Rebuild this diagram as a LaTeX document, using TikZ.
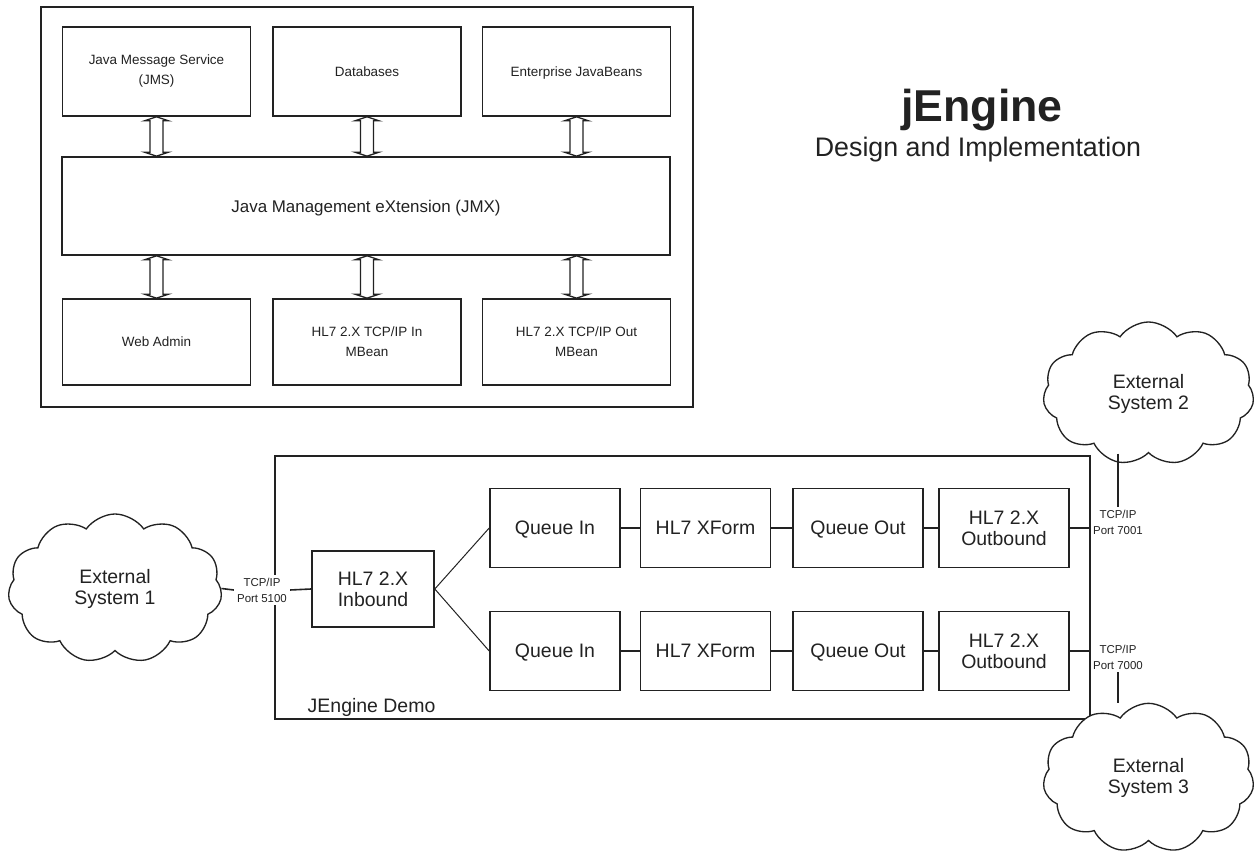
\documentclass[tikz,border=0pt]{standalone}
\usepackage{fontspec}
\setmainfont{Liberation Sans}
\usetikzlibrary{shapes.symbols,calc}
\definecolor{ink}{HTML}{222222}
\tikzset{
  small/.style={font=\fontsize{10.1}{15}\selectfont},
  mid/.style={font=\fontsize{12.7}{15}\selectfont},
  big/.style={font=\fontsize{14.6}{15.75}\selectfont},
  tiny/.style={font=\fontsize{8.6}{12}\selectfont},
  onebig/.style={text height=10.45pt, text depth=0pt},
  onesmall/.style={text height=7.25pt, text depth=0pt},
  box/.style={draw=ink, line width=1.2pt, rectangle, inner sep=0pt, align=center, text=ink},
  topbox/.style={box, small, minimum width=141pt, minimum height=66.75pt},
  botbox/.style={box, small, minimum width=141pt, minimum height=64.5pt},
  flowbox/.style={box, big, minimum width=97.5pt, minimum height=59.25pt},
  frame/.style={draw=ink, line width=1.2pt, rectangle, inner sep=0pt},
  conn/.style={draw=ink, line width=1.2pt},
  thinconn/.style={draw=ink, line width=0.75pt},
  dblarr/.style={draw=ink, line width=1pt, line join=miter},
  cloudy/.style={cloud, cloud puffs=11, cloud puff arc=110, draw=ink, line width=1pt,
    fill=white, align=center, text=ink, big, inner sep=0pt},
  portlbl/.style={tiny, align=center, text=ink, inner ysep=2.25pt, inner xsep=2.25pt},
}
\newcommand\dblarrow[2]{%
  \path[dblarr] #1 -- ++(-12,4) -- ++(5.5,0) -- ($#2+(-6.5,-4)$) -- ++(-5.5,0) -- #2
    -- ++(12,-4) -- ++(-5.5,0) -- ($#1+(6.5,4)$) -- ++(5.5,0) -- cycle;}
\begin{document}
\begin{tikzpicture}[x=0.75pt, y=-0.75pt]
\useasboundingbox (0,0) rectangle (1254,855);

% ---------- top architecture ----------
\node[frame, minimum width=489pt, minimum height=300pt] (outer) at (367,207) {};
\node[topbox] (jms) at (156.5,71.5) {Java Message Service\\(JMS)};
\node[topbox, onesmall] (db)  at (367,71.5) {Databases};
\node[topbox, onesmall] (ejb) at (576.5,71.5) {Enterprise JavaBeans};
\node[box, mid, text height=9.1pt, text depth=0pt, minimum width=456pt, minimum height=73.5pt] (jmx) at (366,206)
  {Java Management eXtension (JMX)};
\node[botbox, onesmall] (web)  at (156.5,342) {Web Admin};
\node[botbox] (hin)  at (367,342) {HL7 2.X TCP/IP In\\MBean};
\node[botbox] (hout) at (576.5,342) {HL7 2.X TCP/IP Out\\MBean};

\dblarrow{(jms.south)}{(jms.south |- jmx.north)}
\dblarrow{(db.south)}{(db.south |- jmx.north)}
\dblarrow{(ejb.south)}{(ejb.south |- jmx.north)}
\dblarrow{(web.north |- jmx.south)}{(web.north)}
\dblarrow{(hin.north |- jmx.south)}{(hin.north)}
\dblarrow{(hout.north |- jmx.south)}{(hout.north)}

% ---------- title ----------
\node[anchor=base, font=\fontsize{33.5}{36}\selectfont\bfseries, text=ink] (title) at (982,122) {jEngine};
\node[anchor=base, font=\fontsize{20.1}{24}\selectfont, text=ink] (subtitle) at (978,157) {Design and Implementation};

% ---------- demo ----------
\node[frame, minimum width=611.25pt, minimum height=197.25pt] (demo) at (682.5,587.5) {};
\node[anchor=base west, big, text=ink] (demolbl) at (303,712) {JEngine Demo};

\node[box, big, minimum width=91.5pt, minimum height=57pt] (inb) at (373,589) {HL7 2.X\\Inbound};
\node[flowbox, onebig] (qin1) at (555,528) {Queue In};
\node[flowbox, onebig] (xf1)  at (705.5,528) {HL7 XForm};
\node[flowbox, onebig] (qo1)  at (858,528) {Queue Out};
\node[flowbox] (out1) at (1004,528) {HL7 2.X\\Outbound};
\node[flowbox, onebig] (qin2) at (555,651) {Queue In};
\node[flowbox, onebig] (xf2)  at (705.5,651) {HL7 XForm};
\node[flowbox, onebig] (qo2)  at (858,651) {Queue Out};
\node[flowbox] (out2) at (1004,651) {HL7 2.X\\Outbound};

\draw[thinconn] (inb.east) -- (qin1.west);
\draw[thinconn] (inb.east) -- (qin2.west);
\draw[conn] (qin1) -- (xf1);
\draw[conn] (xf1) -- (qo1);
\draw[conn] (qo1) -- (out1);
\draw[conn] (qin2) -- (xf2);
\draw[conn] (xf2) -- (qo2);
\draw[conn] (qo2) -- (out2);
\draw[conn] (out1.east) -- (out1.east -| demo.east);
\draw[conn] (out2.east) -- (out2.east -| demo.east);

% ---------- ports and clouds ----------
\node[portlbl, fill=white] (p5100) at (262,590) {TCP/IP\\Port 5100};
\node[portlbl] (p7001) at (1118,522) {TCP/IP\\Port 7001};
\node[portlbl] (p7000) at (1118,657) {TCP/IP\\Port 7000};

\node[cloudy, minimum width=160.5pt, minimum height=111.75pt] (c1) at (115,588.5) {External\\System 1};
\node[cloudy, minimum width=158.25pt, minimum height=107.25pt] (c2) at (1148.5,393.5) {External\\System 2};
\node[cloudy, minimum width=158.25pt, minimum height=112pt] (c3) at (1148.5,778) {External\\System 3};

\draw[conn] (c1.east) -- (p5100.west);
\draw[conn] (p5100.east) -- (inb.west);
\draw[conn] (c2.south -| p7001.north) -- (p7001.north);
\draw[conn] (p7000.south) -- (c3.north -| p7000.south);
\end{tikzpicture}
\end{document}
